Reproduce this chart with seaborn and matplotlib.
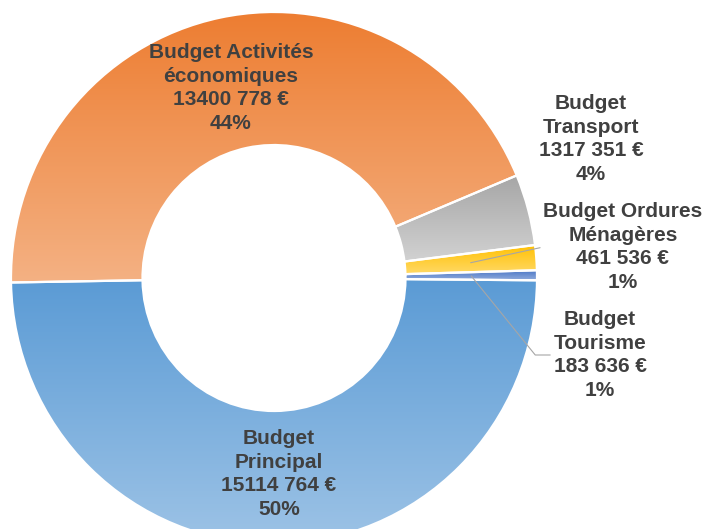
import numpy as np
import seaborn as sns
import matplotlib.pyplot as plt

# Data
budgets = ["Budget\nPrincipal", "Budget Activités\néconomiques", "Budget\nTransport",
           "Budget Ordures\nMénagères", "Budget\nTourisme"]
amounts = [15114764, 13400778, 1317351, 461536, 183636]
pct_labels = ["50%", "44%", "4%", "1%", "1%"]

# gradient colours (top -> bottom of each slice)
top_colors = ["#5B9BD5", "#ED7D31", "#A6A6A6", "#FFC000", "#4472C4"]
bottom_colors = ["#9DC3E6", "#F4B183", "#D2D2D2", "#FFD966", "#8FAADC"]

# layout in pixels (figure 704x529, measured from the top-left)
W, H = 704, 529
cx, cy, rx, ry = 274, 278, 263, 266
label_px = [(279, 474), (231, 88), (591, 139), (623, 247), (600, 355)]

sns.set_theme(style="white")
plt.rcParams['font.family'] = ['Liberation Sans', 'DejaVu Sans']


def euro(v):
    # millions written tight against the thousands, as in the original
    m, rest = divmod(v, 10**6)
    t, u = divmod(rest, 1000)
    if m:
        return f"{m}{t:03d} {u:03d} €"
    return f"{t} {u:03d} €"


fig = plt.figure(figsize=(W / 100, H / 100), dpi=100)
ax = fig.add_axes([0, 0, 1, 1])

wedges, _ = ax.pie(amounts, startangle=-0.5, counterclock=False,
                   wedgeprops=dict(width=0.5, facecolor='none', edgecolor='white',
                                   linewidth=1.6, zorder=3))

# gradient fill clipped to each slice
grad = np.linspace(0, 1, 256).reshape(-1, 1)
for w, ctop, cbot in zip(wedges, top_colors, bottom_colors):
    ext = w.get_path().get_extents()
    cmap = sns.blend_palette([cbot, ctop], as_cmap=True)
    im = ax.imshow(grad, extent=(ext.x0, ext.x1, ext.y0, ext.y1), origin='lower',
                   cmap=cmap, aspect='auto', zorder=2, interpolation='bilinear')
    im.set_clip_path(w)

ax.set_aspect('auto')
ax.set_xlim(-cx / rx, (W - cx) / rx)
ax.set_ylim(-(H - cy) / ry, cy / ry)
ax.axis('off')

# labels (leader lines for the two thin slices)
for i, (w, name, amt, pct) in enumerate(zip(wedges, budgets, amounts, pct_labels)):
    px, py = label_px[i]
    tx, ty = (px - cx) / rx, (cy - py) / ry
    mid = np.deg2rad((w.theta1 + w.theta2) / 2)
    pt = (0.75 * np.cos(mid), 0.75 * np.sin(mid))
    arrow = None
    if i == 3:
        arrow = dict(arrowstyle='-', color='#A6A6A6', lw=0.8, relpos=(0, 0.5),
                     shrinkA=0, shrinkB=0)
    elif i == 4:
        arrow = dict(arrowstyle='-', color='#A6A6A6', lw=0.8, relpos=(0, 0.5),
                     connectionstyle='angle,angleA=0,angleB=-51,rad=0',
                     shrinkA=0, shrinkB=0)
    ax.annotate(f"{name}\n{euro(amt)}\n{pct}", xy=pt, xytext=(tx, ty),
                ha='center', va='center', multialignment='center',
                fontsize=15, fontweight='bold', color='#404040',
                linespacing=1.33, arrowprops=arrow, zorder=5)

plt.savefig('out.png', dpi=100)
